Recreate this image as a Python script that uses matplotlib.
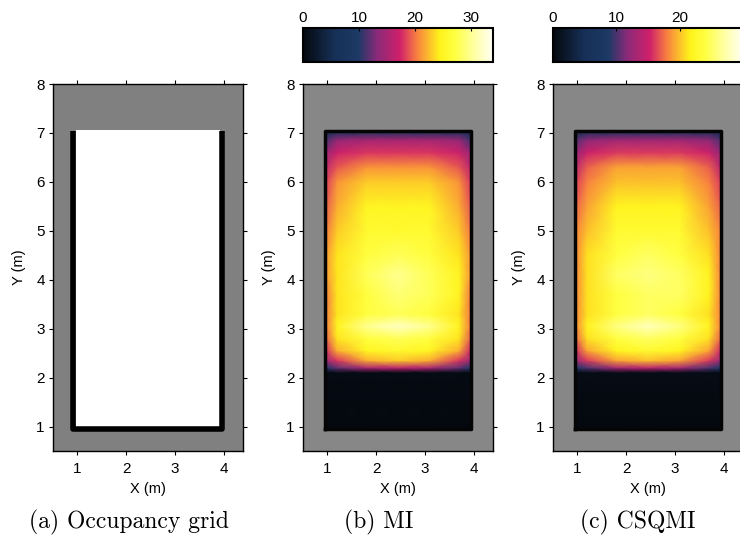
import numpy as np
import matplotlib
matplotlib.use('Agg')
import matplotlib.pyplot as plt
from matplotlib.colors import LinearSegmentedColormap

# occupancy map walls (m)
wall_x = [0.92, 0.92, 3.97, 3.97]
wall_y = [7.03, 0.95, 0.95, 7.03]
free_x = [0.98, 3.92]
free_y = [1.0, 7.06]

# grid nodes of the information maps (m)
node_x = [0.95, 1.2, 1.8, 2.45, 3.1, 3.7, 3.95]
node_y = [0.95, 2.1, 2.2, 2.35, 2.55, 2.8, 3.05, 3.3, 3.7, 4.1, 4.5,
          5.0, 5.5, 6.0, 6.3, 6.6, 6.85, 7.03]

mi_vals = [
    [0, 0, 0, 0, 0, 0, 0],
    [0.5, 0.5, 0.5, 0.5, 0.5, 0.5, 0.5],
    [9, 12, 15, 16, 15, 12, 9],
    [14, 18, 22, 23, 22, 18, 14],
    [17, 22, 25, 26, 25, 22, 17],
    [19, 24, 27, 28, 27, 24, 19],
    [20, 25, 30, 32, 30, 25, 20],
    [20, 24, 27, 28, 27, 24, 20],
    [20, 24, 27, 29, 28, 25, 20],
    [21, 24, 28, 30, 28, 25, 21],
    [21, 24, 27, 28, 27, 24, 21],
    [20, 23, 26, 26, 26, 23, 20],
    [19, 22, 25, 25, 25, 22, 19],
    [18, 21, 23, 23, 23, 21, 18],
    [16, 19, 21, 21, 21, 19, 16],
    [14, 17, 18, 18, 18, 17, 14],
    [11, 14, 15, 15, 15, 14, 11],
    [5, 6, 7, 7, 7, 6, 5],
]

csqmi_vals = [
    [0, 0, 0, 0, 0, 0, 0],
    [0.5, 0.5, 0.5, 0.5, 0.5, 0.5, 0.5],
    [8, 10, 13, 14, 13, 10, 8],
    [12, 16, 19, 20, 19, 16, 12],
    [15, 19, 22, 23, 22, 19, 15],
    [17, 21, 24, 25, 24, 21, 17],
    [18, 22, 26, 28, 26, 22, 18],
    [18, 21, 24, 25, 24, 21, 18],
    [18, 21, 24, 25, 25, 22, 18],
    [18, 21, 25, 26, 25, 22, 18],
    [18, 21, 24, 25, 24, 21, 18],
    [18, 20, 23, 23, 23, 20, 18],
    [17, 19, 22, 22, 22, 19, 17],
    [16, 18, 20, 20, 20, 18, 16],
    [14, 17, 19, 19, 19, 17, 14],
    [12, 15, 16, 16, 16, 15, 12],
    [10, 12, 13, 13, 13, 12, 10],
    [4, 5, 6, 6, 6, 5, 4],
]

mi_max = 34
csqmi_max = 30
mi_ticks = [0, 10, 20, 30]
csqmi_ticks = [0, 10, 20]
ticks_x = [1, 2, 3, 4]
ticks_y = [1, 2, 3, 4, 5, 6, 7, 8]
captions = ['(a) Occupancy grid', '(b) MI', '(c) CSQMI']

cmap = LinearSegmentedColormap.from_list('info', [
    (0.0, '#04080e'), (0.16, '#162f55'), (0.29, '#1c3a66'),
    (0.39, '#8a2a78'), (0.51, '#d0206a'), (0.6, '#f88040'),
    (0.65, '#fbb030'), (0.72, '#fff21a'), (0.8, '#ffff40'),
    (0.9, '#ffffa0'), (1.0, '#fffff5')])

plt.rcParams['font.family'] = ['Liberation Sans', 'DejaVu Sans']

fig = plt.figure(figsize=(7.4, 5.39), dpi=100)
W, H = 740.0, 539.0
lefts = [53, 303, 553]
aw, top, bot = 190, 84, 451
axes = [fig.add_axes([l / W, 1 - bot / H, aw / W, (bot - top) / H]) for l in lefts]


def style(ax):
    ax.set_xlim(0.5, 4.4)
    ax.set_ylim(0.5, 8)
    ax.set_xticks(ticks_x)
    ax.set_yticks(ticks_y)
    ax.tick_params(direction='out', length=3, width=0.8, labelsize=11,
                   top=True, right=True)
    ax.tick_params(axis='x', pad=5)
    ax.tick_params(axis='y', pad=3)
    ax.set_xlabel('X (m)', fontsize=10.5, labelpad=4)
    ax.set_ylabel('Y (m)', fontsize=10.5, labelpad=7)
    for s in ax.spines.values():
        s.set_linewidth(1.0)


# (a) occupancy grid
ax = axes[0]
ax.set_facecolor('#808080')
ax.fill_between(free_x, free_y[0], free_y[1], color='white', lw=0)
ax.plot(wall_x, wall_y, color='black', lw=4, solid_capstyle='butt')
style(ax)

# (b), (c) information maps
for ax, vals, vmax, tk in [(axes[1], mi_vals, mi_max, mi_ticks),
                           (axes[2], csqmi_vals, csqmi_max, csqmi_ticks)]:
    ax.set_facecolor('#878787')
    pm = ax.pcolormesh(node_x, node_y, np.array(vals, dtype=float), cmap=cmap,
                       vmin=0, vmax=vmax, shading='gouraud')
    ax.plot([node_x[0], node_x[0], node_x[-1], node_x[-1], node_x[0]],
            [node_y[0], node_y[-1], node_y[-1], node_y[0], node_y[0]],
            color='#050505', lw=2.5)
    style(ax)
    pos = ax.get_position()
    cax = fig.add_axes([pos.x0, 1 - 62 / H, pos.width, 34 / H])
    cb = fig.colorbar(pm, cax=cax, orientation='horizontal', ticks=tk)
    cax.xaxis.set_ticks_position('top')
    cax.tick_params(direction='in', length=2, labelsize=11, pad=2)
    cb.outline.set_linewidth(1.5)

for cx, txt in zip([129, 379, 638], captions):
    fig.text(cx / W, 1 - 522 / H, txt, ha='center', va='center',
             fontsize=17, family='cmr10')

fig.savefig('out.png', dpi=100)
